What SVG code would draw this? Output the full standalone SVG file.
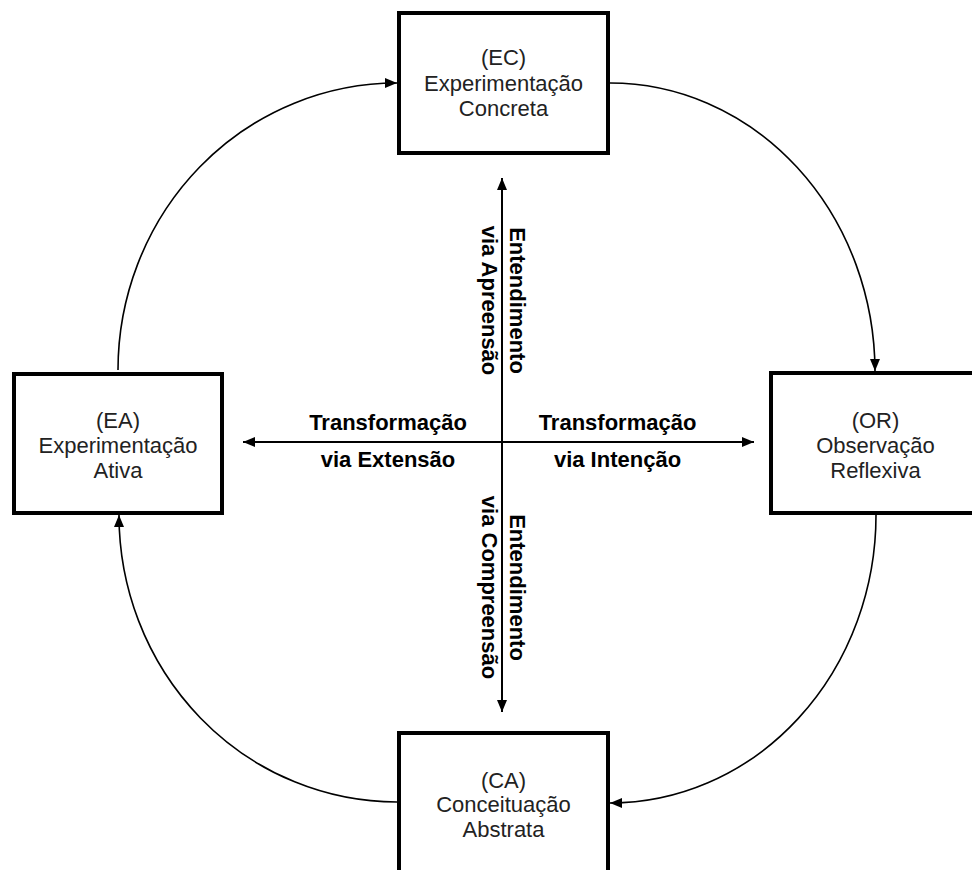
<svg xmlns="http://www.w3.org/2000/svg" width="972" height="870" viewBox="0 0 972 870">
<style>
.box{fill:#fff;stroke:#000;stroke-width:4}
.nt{font-family:"Liberation Sans",Arial,sans-serif;font-size:22px;fill:#222;text-anchor:middle}
.lb{font-family:"Liberation Sans",Arial,sans-serif;font-size:22px;font-weight:bold;fill:#000;text-anchor:middle}
.arc{fill:none;stroke:#000;stroke-width:1.6}
.axis{fill:none;stroke:#000;stroke-width:2}
</style>
<defs>
<marker id="ah" viewBox="0 0 12 10" refX="12" refY="5" markerWidth="12" markerHeight="10" markerUnits="userSpaceOnUse" orient="auto"><path d="M0,0 L12,5 L0,10 z" fill="#000"/></marker>
<marker id="ah2" viewBox="0 0 12 10" refX="12" refY="5" markerWidth="12" markerHeight="10" markerUnits="userSpaceOnUse" orient="auto-start-reverse"><path d="M0,0 L12,5 L0,10 z" fill="#000"/></marker>
</defs>
<rect width="972" height="870" fill="#fff"/>
<g id="connectors">
<path class="arc" d="M118,370 A279,287 0 0 1 397,83" marker-end="url(#ah)"/>
<path class="arc" d="M610,83 A265,289 0 0 1 875,371" marker-end="url(#ah)"/>
<path class="arc" d="M876,515 A266,288 0 0 1 610,803" marker-end="url(#ah)"/>
<path class="arc" d="M397,802 A278,287 0 0 1 119,515" marker-end="url(#ah)"/>
<path class="axis" d="M502,178 L502,712" marker-start="url(#ah2)" marker-end="url(#ah2)"/>
<path class="axis" d="M243,442 L754,442" marker-start="url(#ah2)" marker-end="url(#ah2)"/>
</g>
<g id="labels">
<text class="lb" x="388" y="430">Transformação</text>
<text class="lb" x="388" y="467">via Extensão</text>
<text class="lb" x="617.5" y="430">Transformação</text>
<text class="lb" x="617.5" y="467">via Intenção</text>
<g transform="translate(510,300.5) rotate(90)"><text class="lb" x="0" y="0">Entendimento</text></g>
<g transform="translate(482,300.5) rotate(90)"><text class="lb" x="0" y="0">via Apreensão</text></g>
<g transform="translate(510,587.5) rotate(90)"><text class="lb" x="0" y="0">Entendimento</text></g>
<g transform="translate(482,587.5) rotate(90)"><text class="lb" x="0" y="0">via Compreensão</text></g>
</g>
<g id="node-EC">
<rect class="box" x="399" y="13" width="209" height="140"/>
<text class="nt" x="503.5" y="65">(EC)</text>
<text class="nt" x="503.5" y="91">Experimentação</text>
<text class="nt" x="503.5" y="116">Concreta</text>
</g>
<g id="node-EA">
<rect class="box" x="14" y="374" width="208" height="139"/>
<text class="nt" x="118" y="428">(EA)</text>
<text class="nt" x="118" y="453">Experimentação</text>
<text class="nt" x="118" y="478">Ativa</text>
</g>
<g id="node-OR">
<rect class="box" x="771" y="373" width="209" height="140"/>
<text class="nt" x="875.5" y="428">(OR)</text>
<text class="nt" x="875.5" y="453">Observação</text>
<text class="nt" x="875.5" y="478">Reflexiva</text>
</g>
<g id="node-CA">
<rect class="box" x="399" y="733" width="209" height="140"/>
<text class="nt" x="503.5" y="788">(CA)</text>
<text class="nt" x="503.5" y="812">Conceituação</text>
<text class="nt" x="503.5" y="837">Abstrata</text>
</g>
</svg>
